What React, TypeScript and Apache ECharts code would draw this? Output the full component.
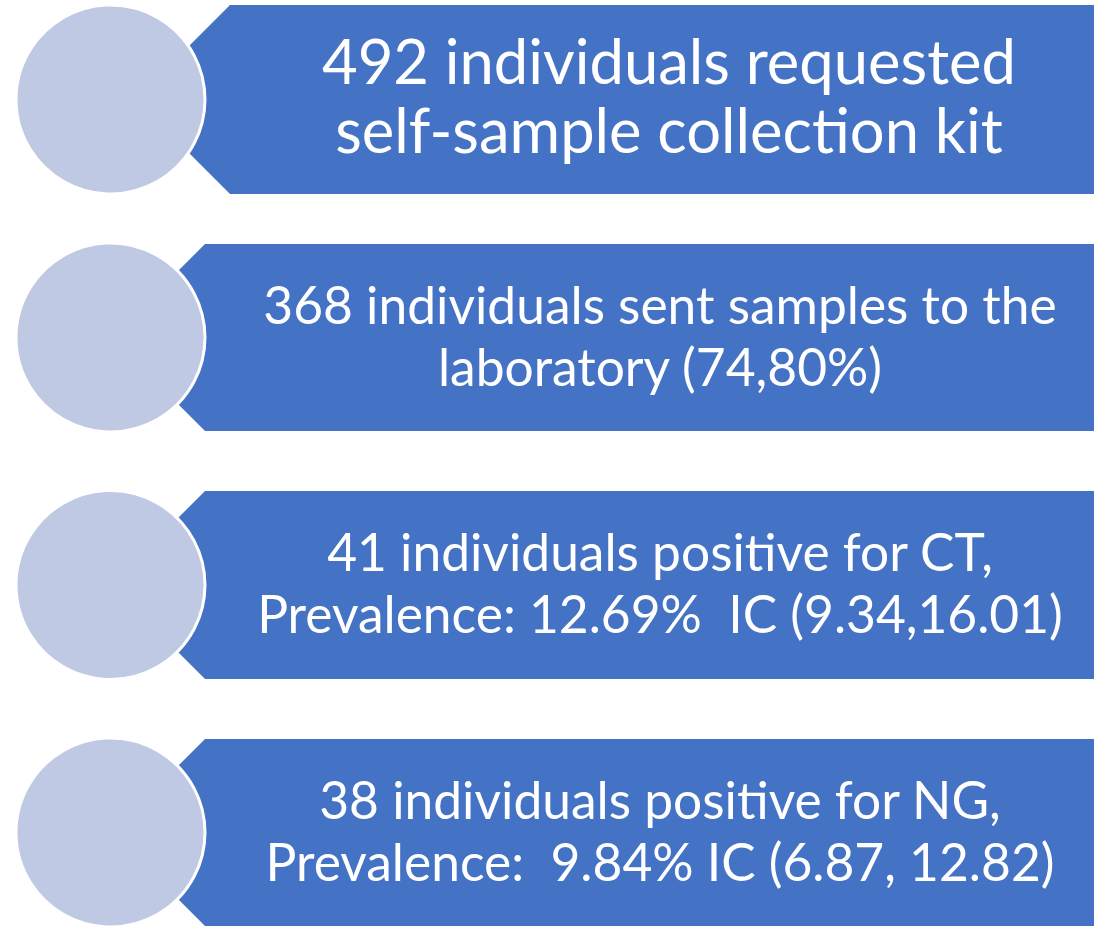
import React, { useEffect, useRef } from "react";
import * as echarts from "echarts";

// Flow steps (text of each step, one line per entry)
const step1 = ["492 individuals requested", "self-sample collection kit"];
const step2 = ["368 individuals sent samples to the", "laboratory (74,80%)"];
const step3 = ["41 individuals positive for CT,", "Prevalence: 12.69%  IC (9.34,16.01)"];
const step4 = ["38 individuals positive for NG,", "Prevalence:  9.84% IC (6.87, 12.82)"];
const steps = [step1, step2, step3, step4];

const W = 1094;
const H = 926;
const BOX = "#4472C4";
const CIRCLE = "#BFC9E3";
const FONT = "Lato, 'Noto Sans', sans-serif";

// layout per row: box top/bottom, corner x, text center x, font size, line height, text offset
const rowsLayout = [
  { top: 5, bottom: 194, corner: 230, tx: 669, fs: 61.5, lh: 69, dy: -5 },
  { top: 244, bottom: 431, corner: 205, tx: 660, fs: 51.5, lh: 62, dy: -3 },
  { top: 491, bottom: 679, corner: 205, tx: 660, fs: 51.5, lh: 62, dy: -3 },
  { top: 739, bottom: 926, corner: 205, tx: 660, fs: 51.5, lh: 62, dy: -3 },
];

export default function App() {
  const ref = useRef<HTMLDivElement>(null);
  useEffect(() => {
    if (!ref.current) return;
    const chart = echarts.init(ref.current, null, { renderer: "svg" });
    const elements: any[] = [];
    rowsLayout.forEach((r, i) => {
      const h = r.bottom - r.top;
      const cy = (r.top + r.bottom) / 2;
      const tip = r.corner - h / 2;
      elements.push({
        type: "polygon",
        shape: {
          points: [
            [tip, cy],
            [r.corner, r.top],
            [W + 10, r.top],
            [W + 10, r.bottom],
            [r.corner, r.bottom],
          ],
        },
        style: { fill: BOX },
      });
      elements.push({
        type: "circle",
        shape: { cx: 110.5, cy, r: 94.5 },
        style: { fill: CIRCLE, stroke: "#ffffff", lineWidth: 3 },
      });
      elements.push({
        type: "text",
        x: r.tx,
        y: cy + r.dy,
        style: {
          text: steps[i].join("\n"),
          fill: "#ffffff",
          fontSize: r.fs,
          fontFamily: FONT,
          lineHeight: r.lh,
          align: "center",
          verticalAlign: "middle",
        },
      });
    });
    chart.setOption({
      animation: false,
      graphic: { elements },
    });
    return () => chart.dispose();
  }, []);
  return (
    <div
      ref={ref}
      style={{ position: "absolute", left: 0, top: 0, width: W, height: H, background: "#ffffff" }}
    />
  );
}
